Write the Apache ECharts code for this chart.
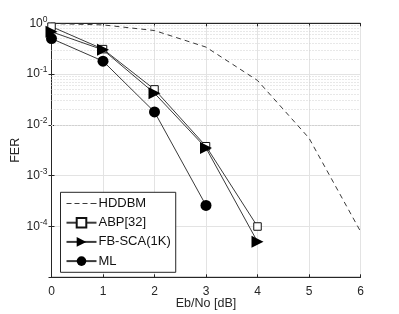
<!DOCTYPE html>
<html><head><meta charset="utf-8">
<script src="https://cdn.jsdelivr.net/npm/echarts@6/dist/echarts.min.js"></script>
<style>html,body{margin:0;padding:0;background:#fff}#c{width:399px;height:314px}</style>
</head><body><div id="c"></div>
<script>
var ebno = [0, 1, 2, 3, 4, 5, 6];
var hddbm = [0.99, 0.93, 0.72, 0.34, 0.075, 0.0055, 0.00008];
var abp = [0.86, 0.31, 0.05, 0.0038, 0.0001];
var fbsca = [0.68, 0.30, 0.042, 0.0035, 0.00005];
var ml = [0.50, 0.18, 0.018, 0.00026];
var xTicks = [0, 1, 2, 3, 4, 5, 6];
var yMin = 1e-5, yMax = 1;

function pairs(ys) { return ys.map(function (v, i) { return [ebno[i], v]; }); }
var minorVals = [];
for (var e = -5; e < 0; e++) for (var m = 2; m <= 9; m++) minorVals.push({ yAxis: m * Math.pow(10, e) });

var txt = '#262626', ln = '#3a3a3a';
var font = 'Liberation Sans, Arial, sans-serif';
var tri = 'path://M0,0 L10,5 L0,10 Z';
var dashIcon = 'path://M0,0h0.01v0.01h-0.01z M29.99,11.99h0.01v0.01h-0.01z M0,5.5h5v1h-5z M8,5.5h5v1h-5z M16,5.5h5v1h-5z M24,5.5h6v1h-6z';

var chart = echarts.init(document.getElementById('c'));
chart.setOption({
  animation: false,
  backgroundColor: '#fff',
  textStyle: { fontFamily: font },
  grid: { left: 51.5, right: 38.5, top: 23.3, bottom: 36.7, containLabel: false, outerBoundsMode: 'none',
    show: true, borderColor: '#262626', borderWidth: 1 },
  xAxis: [{
    type: 'value', min: 0, max: 6, interval: 1,
    name: 'Eb/No [dB]', nameLocation: 'middle', nameGap: 19.5, nameMoveOverlap: false,
    nameTextStyle: { color: txt, fontSize: 12.5, fontFamily: font },
    axisLine: { lineStyle: { color: '#262626' } },
    axisTick: { inside: true, length: 3, lineStyle: { color: '#262626' } },
    axisLabel: { color: txt, fontSize: 12, margin: 8, fontFamily: font },
    splitLine: { show: true, lineStyle: { color: '#e3e3e3', width: 1 } }
  }, {
    type: 'value', min: 0, max: 6, interval: 1, position: 'top',
    axisLine: { lineStyle: { color: '#262626' } },
    axisTick: { inside: true, length: 3, lineStyle: { color: '#262626' } },
    axisLabel: { show: false }, splitLine: { show: false }
  }],
  yAxis: [{
    type: 'log', min: yMin, max: yMax, logBase: 10,
    name: 'FER', nameLocation: 'middle', nameGap: 29, nameMoveOverlap: false,
    nameTextStyle: { color: txt, fontSize: 12.5, fontFamily: font },
    axisLine: { lineStyle: { color: '#262626' } },
    axisTick: { inside: true, length: 3, lineStyle: { color: '#262626' } },
    axisLabel: {
      color: txt, margin: 4, fontFamily: font, showMinLabel: false,
      formatter: function (v) {
        var ex = Math.round(Math.log10(v));
        return '{b|10}{s|' + ex + '}';
      },
      rich: {
        b: { fontSize: 12, color: txt, fontFamily: font },
        s: { fontSize: 8.5, color: txt, fontFamily: font, verticalAlign: 'top', padding: [0, 0, 8, 0] }
      }
    },
    splitLine: { show: true, lineStyle: { color: '#e3e3e3', width: 1 } }
  }, {
    type: 'log', min: yMin, max: yMax, logBase: 10, position: 'right',
    axisLine: { lineStyle: { color: '#262626' } },
    axisTick: { inside: true, length: 3, lineStyle: { color: '#262626' } },
    axisLabel: { show: false }, splitLine: { show: false }
  }],
  legend: {
    orient: 'vertical', left: 60.5, top: 192.3,
    backgroundColor: '#fff', borderColor: '#262626', borderWidth: 1, borderRadius: 0,
    padding: [4.7, 5, 4.7, 5], itemGap: 6.2, itemWidth: 30, itemHeight: 12,
    textStyle: { color: '#111', fontSize: 13, fontFamily: font, padding: [0, 0, 0, -3] },
    data: [{ name: 'HDDBM', icon: dashIcon, itemStyle: { color: ln } }, 'ABP[32]', 'FB-SCA(1K)', 'ML']
  },
  series: [{
    name: 'minor', type: 'line', data: [], silent: true,
    markLine: { silent: true, symbol: 'none', label: { show: false },
      lineStyle: { color: '#d0d0d0', type: [1, 2], width: 1 }, data: minorVals }
  }, {
    name: 'HDDBM', type: 'line', data: pairs(hddbm), showSymbol: false, symbol: 'none', z: 5,
    lineStyle: { color: ln, width: 1, type: [5, 4] }, itemStyle: { color: ln }
  }, {
    name: 'ABP[32]', type: 'line', data: pairs(abp), symbol: 'rect', symbolSize: 7.5, z: 6,
    lineStyle: { color: ln, width: 1 }, itemStyle: { color: '#fff', borderColor: '#111', borderWidth: 1 }
  }, {
    name: 'FB-SCA(1K)', type: 'line', data: pairs(fbsca), symbol: tri, symbolSize: [12, 12], z: 7,
    lineStyle: { color: ln, width: 1 }, itemStyle: { color: '#000' }
  }, {
    name: 'ML', type: 'line', data: pairs(ml), symbol: 'circle', symbolSize: 11, z: 8,
    lineStyle: { color: ln, width: 1 }, itemStyle: { color: '#000' }
  }]
});
</script></body></html>
